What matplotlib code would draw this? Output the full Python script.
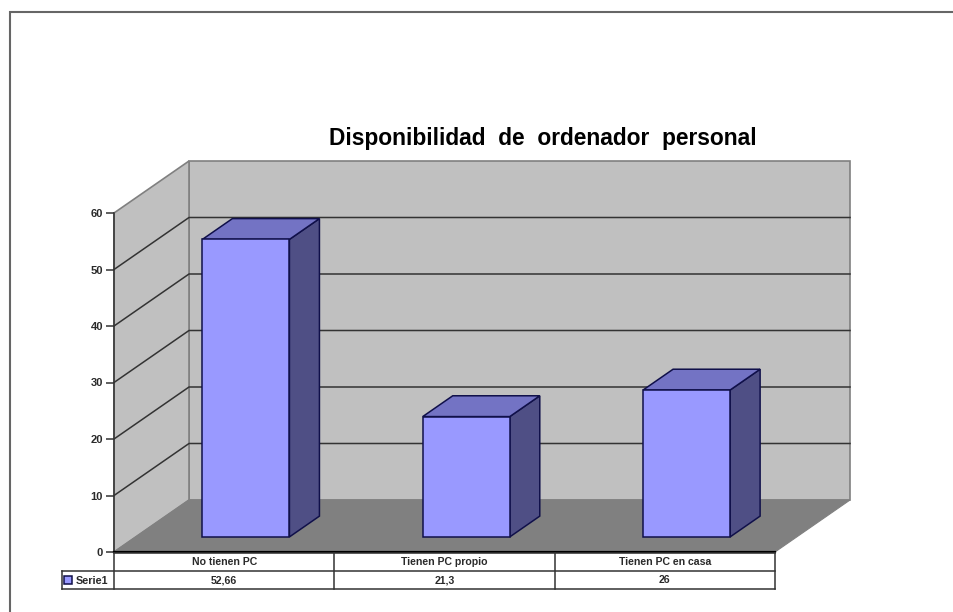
import matplotlib
matplotlib.use("Agg")
from matplotlib import pyplot as plt
from matplotlib.patches import Polygon, Rectangle

categories = ["No tienen PC", "Tienen PC propio", "Tienen PC en casa"]
serie1 = [52.66, 21.3, 26]
serie1_labels = ["52,66", "21,3", "26"]
yticks = [0, 10, 20, 30, 40, 50, 60]

W, H = 954, 612
# floor depth expressed in axis units
DX = 75 / 220.3
DY = 52 / 5.65
BAR_W = 0.395
BAR_D0 = 0.29   # bar front, as a share of the floor depth
BAR_D1 = 0.69   # bar back

FACE = "#9999ff"
TOP = "#7373c4"
SIDE = "#4f4f85"
EDGE = "#10104a"
TEXT = "#2a2a2a"

plt.rcParams["font.family"] = ["Liberation Sans", "DejaVu Sans"]

fig = plt.figure(figsize=(W / 100, H / 100), dpi=100)
fig.patch.set_facecolor("white")


def px_ax(l, t, r, b):
    return fig.add_axes([l / W, 1 - b / H, (r - l) / W, (b - t) / H])


# the picture only has a left and a top border
fig.add_artist(plt.Line2D([10 / W, 10 / W, 1], [0, 1 - 11.5 / H, 1 - 11.5 / H],
                          transform=fig.transFigure, color="#666666", lw=1.5,
                          solid_joinstyle="miter"))

fig.text(543 / W, 1 - 138 / H, "Disponibilidad  de  ordenador  personal",
         ha="center", va="center", fontsize=16.4, fontweight="bold", color="black")

ax = px_ax(114, 213, 775, 552)
ax.set_xlim(0, 3)
ax.set_ylim(0, 60)
ax.patch.set_visible(False)
for s in ["top", "right", "bottom"]:
    ax.spines[s].set_visible(False)
ax.spines["left"].set_linewidth(1.1)
ax.spines["left"].set_color("#333333")

n = len(categories)
top = yticks[-1]

# back wall, side wall, floor
ax.add_patch(Polygon([(DX, DY), (n + DX, DY), (n + DX, top + DY), (DX, top + DY)],
                     fc="#c0c0c0", ec="#808080", lw=1.2, clip_on=False, zorder=1))
ax.add_patch(Polygon([(0, 0), (DX, DY), (DX, top + DY), (0, top)],
                     fc="#c0c0c0", ec="#808080", lw=1.2, clip_on=False, zorder=1))
ax.add_patch(Polygon([(0, 0), (n, 0), (n + DX, DY), (DX, DY)],
                     fc="#808080", ec="#808080", lw=0.8, clip_on=False, zorder=2))

# gridlines on the walls
for t in yticks[1:-1]:
    ax.plot([0, DX, n + DX], [t, t + DY, t + DY], color="#333333", lw=1.1,
            clip_on=False, zorder=2)

# bars
for i, v in enumerate(serie1):
    x0 = i + 0.5 - BAR_W / 2 + BAR_D0 * DX
    x1 = x0 + BAR_W
    y0 = BAR_D0 * DY
    ox = (BAR_D1 - BAR_D0) * DX
    oy = (BAR_D1 - BAR_D0) * DY
    ax.add_patch(Polygon([(x1, y0), (x1 + ox, y0 + oy), (x1 + ox, y0 + oy + v), (x1, y0 + v)],
                         fc=SIDE, ec=EDGE, lw=1.1, clip_on=False, zorder=3))
    ax.add_patch(Polygon([(x0, y0 + v), (x1, y0 + v), (x1 + ox, y0 + oy + v), (x0 + ox, y0 + oy + v)],
                         fc=TOP, ec=EDGE, lw=1.1, clip_on=False, zorder=3))
    ax.add_patch(Rectangle((x0, y0), BAR_W, v, fc=FACE, ec=EDGE, lw=1.1, clip_on=False, zorder=4))

ax.plot([0, n], [0, 0], color="black", lw=1.6, clip_on=False, zorder=5)

ax.set_yticks(yticks)
ax.set_xticks([])
ax.tick_params(axis="y", length=6, width=1.1, color="#333333", pad=2, labelsize=8,
               labelcolor=TEXT)
for lab in ax.get_yticklabels():
    lab.set_fontweight("bold")

# data table under the plot
tab = px_ax(62, 553, 775, 589)
tab.set_xlim(-52 / 220.3, 3)
tab.set_ylim(2, 0)
tab.axis("off")
line = dict(color="#333333", lw=1.1, clip_on=False)
tab.plot([0, 3], [0, 0], **line)
tab.plot([-52 / 220.3, 3], [1, 1], **line)
tab.plot([-52 / 220.3, 3], [2, 2], **line)
tab.plot([-52 / 220.3, -52 / 220.3], [1, 2], **line)
for x in range(n + 1):
    tab.plot([x, x], [0, 2], **line)
for i in range(n):
    tab.text(i + 0.5, 0.52, categories[i], ha="center", va="center", fontsize=7.6,
             fontweight="bold", color=TEXT)
    tab.text(i + 0.5, 1.52, serie1_labels[i], ha="center", va="center", fontsize=7.6,
             fontweight="bold", color=TEXT)
tab.add_patch(Rectangle((-50 / 220.3, 1.3), 8 / 220.3, 0.42, fc=FACE, ec=EDGE, lw=1.1))
tab.text(-38.5 / 220.3, 1.54, "Serie1", ha="left", va="center", fontsize=7.8,
         fontweight="bold", color=TEXT)

fig.savefig("out.png", dpi=100)
